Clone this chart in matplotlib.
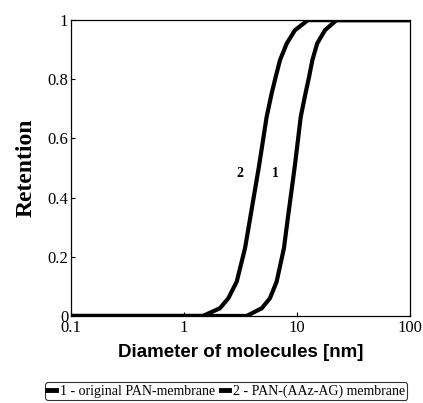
import numpy as np
import matplotlib.pyplot as plt

# 分子直徑 [nm] 與截留率
diam_1 = [0.1, 3.59, 4.88, 5.77, 6.61, 7.67, 8.3, 9.6, 10.8, 11.9, 12.8, 13.7, 15.1, 17.7, 22.4, 100]
ret_1 = [0, 0, 0.026, 0.06, 0.116, 0.229, 0.33, 0.51, 0.673, 0.752, 0.808, 0.865, 0.921, 0.966, 1, 1]
diam_2 = [0.1, 1.47, 2.08, 2.47, 2.93, 3.47, 3.85, 4.63, 5.39, 5.97, 6.48, 7.08, 8.12, 9.6, 12.5, 100]
ret_2 = [0, 0, 0.026, 0.06, 0.116, 0.229, 0.33, 0.51, 0.673, 0.752, 0.808, 0.865, 0.921, 0.966, 1, 1]

labels = ['1 - original PAN-membrane', '2 - PAN-(AAz-AG) membrane']
x_ticks = [0.1, 1, 10, 100]
x_ticklabels = ['0.1', '1', '10', '100']
y_ticks = [0, 0.2, 0.4, 0.6, 0.8, 1]
y_ticklabels = ['0', '0.2', '0.4', '0.6', '0.8', '1']

serif = 'Liberation Serif'
sans = 'Liberation Sans'

fig = plt.figure(figsize=(4.23, 4.03), dpi=100)
ax = fig.add_axes([0.168, 0.216, 0.801, 0.734])

ax.plot(diam_1, ret_1, color='black', lw=3, solid_joinstyle='round', label=labels[0])
ax.plot(diam_2, ret_2, color='black', lw=3, solid_joinstyle='round', label=labels[1])

ax.set_xscale('log')
ax.set_xlim(0.1, 100)
ax.set_ylim(0, 1)
ax.set_xticks(x_ticks)
ax.set_xticklabels(x_ticklabels, fontfamily=serif, fontsize=12)
ax.set_yticks(y_ticks)
ax.set_yticklabels(y_ticklabels, fontfamily=serif, fontsize=12)
ax.minorticks_off()
ax.tick_params(direction='in', length=3, width=0.8, pad=2)
ax.tick_params(axis='x', pad=3)

for s in ax.spines.values():
    s.set_linewidth(0.9)

# 曲線編號
ax.text(3.1, 0.48, '2', fontfamily=serif, fontweight='bold', fontsize=10, ha='center', va='center')
ax.text(6.4, 0.48, '1', fontfamily=serif, fontweight='bold', fontsize=10, ha='center', va='center')

ax.set_xlabel('Diameter of molecules [nm]', fontfamily=sans, fontweight='bold', fontsize=13.5, labelpad=6)
ax.set_ylabel('Retention', fontfamily=serif, fontweight='bold', fontsize=17, labelpad=8)

leg = fig.legend(loc='lower center', bbox_to_anchor=(0.535, -0.01), ncol=2,
                 prop={'family': serif, 'size': 10}, frameon=True, fancybox=True,
                 handlelength=0.6, handletextpad=0.3, columnspacing=0.4,
                 borderpad=0.15, edgecolor='black')
leg.get_frame().set_linewidth(0.8)
for h in leg.legend_handles:
    h.set_linewidth(3.5)

fig.savefig('out.png', dpi=100)
